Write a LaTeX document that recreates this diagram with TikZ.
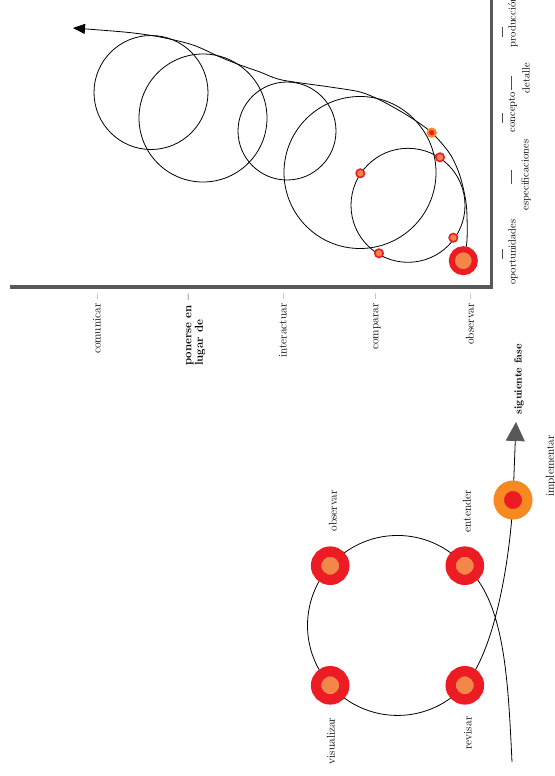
\documentclass[tikz,border=0pt]{standalone}
\usetikzlibrary{arrows.meta}
\definecolor{cred}{RGB}{237,28,36}
\definecolor{corange}{RGB}{243,135,74}
\definecolor{cyell}{RGB}{246,137,31}
\definecolor{caxis}{RGB}{88,88,88}
\begin{document}
\begin{tikzpicture}[x=1pt,y=-1pt,
  loopline/.style={draw=black,line width=0.8pt},
  axisline/.style={draw=caxis,line width=3.8pt},
  ticks/.style={draw=black!70,line width=0.6pt},
  lbl/.style={rotate=90,inner sep=0pt,font=\fontsize{11.5}{13}\selectfont},
  axlbl/.style={rotate=90,inner sep=0pt,font=\fontsize{10.5}{12}\selectfont},
  stagedot/.style={circle,fill=corange,draw=cred,line width=10.3pt,minimum size=28.3pt,inner sep=0pt},
  impldot/.style={circle,fill=cred,draw=cyell,line width=10.5pt,minimum size=28.5pt,inner sep=0pt},
  smalldot/.style={circle,fill=corange,draw=cred,line width=1.6pt,minimum size=8.4pt,inner sep=0pt},
  smallimpl/.style={circle,fill=cred,draw=cyell,line width=2.2pt,minimum size=8pt,inner sep=0pt},
  startdot/.style={circle,fill=corange,draw=cred,line width=6pt,minimum size=23pt,inner sep=0pt}
]
\useasboundingbox (0,0) rectangle (554,776);

% ---------- axes ----------
\coordinate (axL) at (10,287);
\coordinate (axC) at (491.5,287);
\coordinate (axT) at (491.5,-2);
\draw[axisline] (axL) -- (axC) -- (axT);

% ---------- upper loops ----------
\draw[loopline] (151,92.5) circle[radius=57pt];
\draw[loopline] (203,118) circle[radius=64pt];
\draw[loopline] (287,131) circle[radius=49pt];
\draw[loopline] (360,172.5) circle[radius=76pt];
\draw[loopline] (408,205.3) circle[radius=57pt];

\coordinate (e1) at (467,240);
\coordinate (e2) at (466.3,205);
\coordinate (e3) at (460,176);
\coordinate (e4) at (450,154);
\coordinate (eI) at (431.7,132.7);
\coordinate (e5) at (410,117);
\coordinate (e6) at (382,101);
\coordinate (e7) at (360,92);
\coordinate (e8) at (330,87);
\coordinate (e9) at (282,80);
\coordinate (e10) at (260,72);
\coordinate (e11) at (240,65);
\coordinate (e12) at (220,57);
\coordinate (e13) at (193,45);
\coordinate (e14) at (160,37);
\coordinate (e15) at (127,32.3);
\coordinate (etip) at (73,28);
\coordinate (e0) at (463.5,260);
\draw[loopline,-{Triangle[length=12pt,width=10pt]}] plot[smooth,tension=0.5] coordinates {(e0) (e1) (e2) (e3) (e4) (eI) (e5) (e6) (e7) (e8) (e9) (e10) (e11) (e12) (e13) (e14) (e15) (etip)};

\node[smalldot] (u1) at (360.3,173.3) {};
\node[smalldot] (u2) at (440,157.3) {};
\node[smalldot] (u3) at (453.3,237.7) {};
\node[smalldot] (u4) at (379,253.3) {};
\node[smallimpl] (uI) at (eI) {};
\node[startdot] (start) at (463.3,260.7) {};

% ---------- axis labels (left) ----------
\node[lbl,anchor=east] (lcom) at (97,294) {comunicar –};
\node[lbl,anchor=north east,align=left,font=\fontsize{11.5}{11.5}\selectfont\bfseries] (lpon) at (186,294) {ponerse en –\\lugar de};
\node[lbl,anchor=east] (lint) at (283,294) {interactuar –};
\node[lbl,anchor=east] (lcmp) at (377,294) {comparar –};
\node[lbl,anchor=east] (lobs) at (470,294) {observar –};

% ---------- axis labels (bottom) ----------
\node[axlbl] (bop) at (513,252) {oportunidades};
\node[axlbl] (besp) at (526,175) {especificaciones};
\node[axlbl] (bcon) at (513,112) {concepto};
\node[axlbl] (bdet) at (526,78) {detalle};
\node[axlbl] (bpro) at (513,22) {producción};
\draw[ticks] (502,249) -- (502,259);
\draw[ticks] (511,170) -- (511,184);
\draw[ticks] (502,113) -- (502,123);
\draw[ticks] (511,76) -- (511,90);
\draw[ticks] (502,27) -- (502,37);

% ---------- lower loop ----------
\coordinate (S) at (512,762);
\coordinate (T) at (516,422);
\coordinate (En) at (464.8,565.7);
\coordinate (Re) at (464.8,685.3);
\coordinate (Im) at (513,500);
\draw[loopline] (S) .. controls (508,680) and (505,600) .. (En)
  arc[start angle=41.6,end angle=318.4,radius=90pt]
  .. controls (494.7,651.6) and (510,560) .. (Im);
\draw[loopline,-{Triangle[length=19pt,width=19pt,color=caxis]}] (Im) -- (T);

\node[stagedot] (dEn) at (En) {};
\node[stagedot] (dOb) at (330.2,565.7) {};
\node[stagedot] (dVi) at (330.2,685.3) {};
\node[stagedot] (dRe) at (Re) {};
\node[impldot] (dIm) at (Im) {};

\node[lbl] (tOb) at (333,511) {observar};
\node[lbl] (tEn) at (467,511) {entender};
\node[lbl] (tVi) at (331,741) {visualizar};
\node[lbl] (tRe) at (468,733) {revisar};
\node[lbl] (tIm) at (551,466) {implementar};
\node[rotate=90,inner sep=0pt,font=\fontsize{10.5}{12}\selectfont\bfseries] (tSig) at (519,379) {siguiente fase};
\end{tikzpicture}
\end{document}
